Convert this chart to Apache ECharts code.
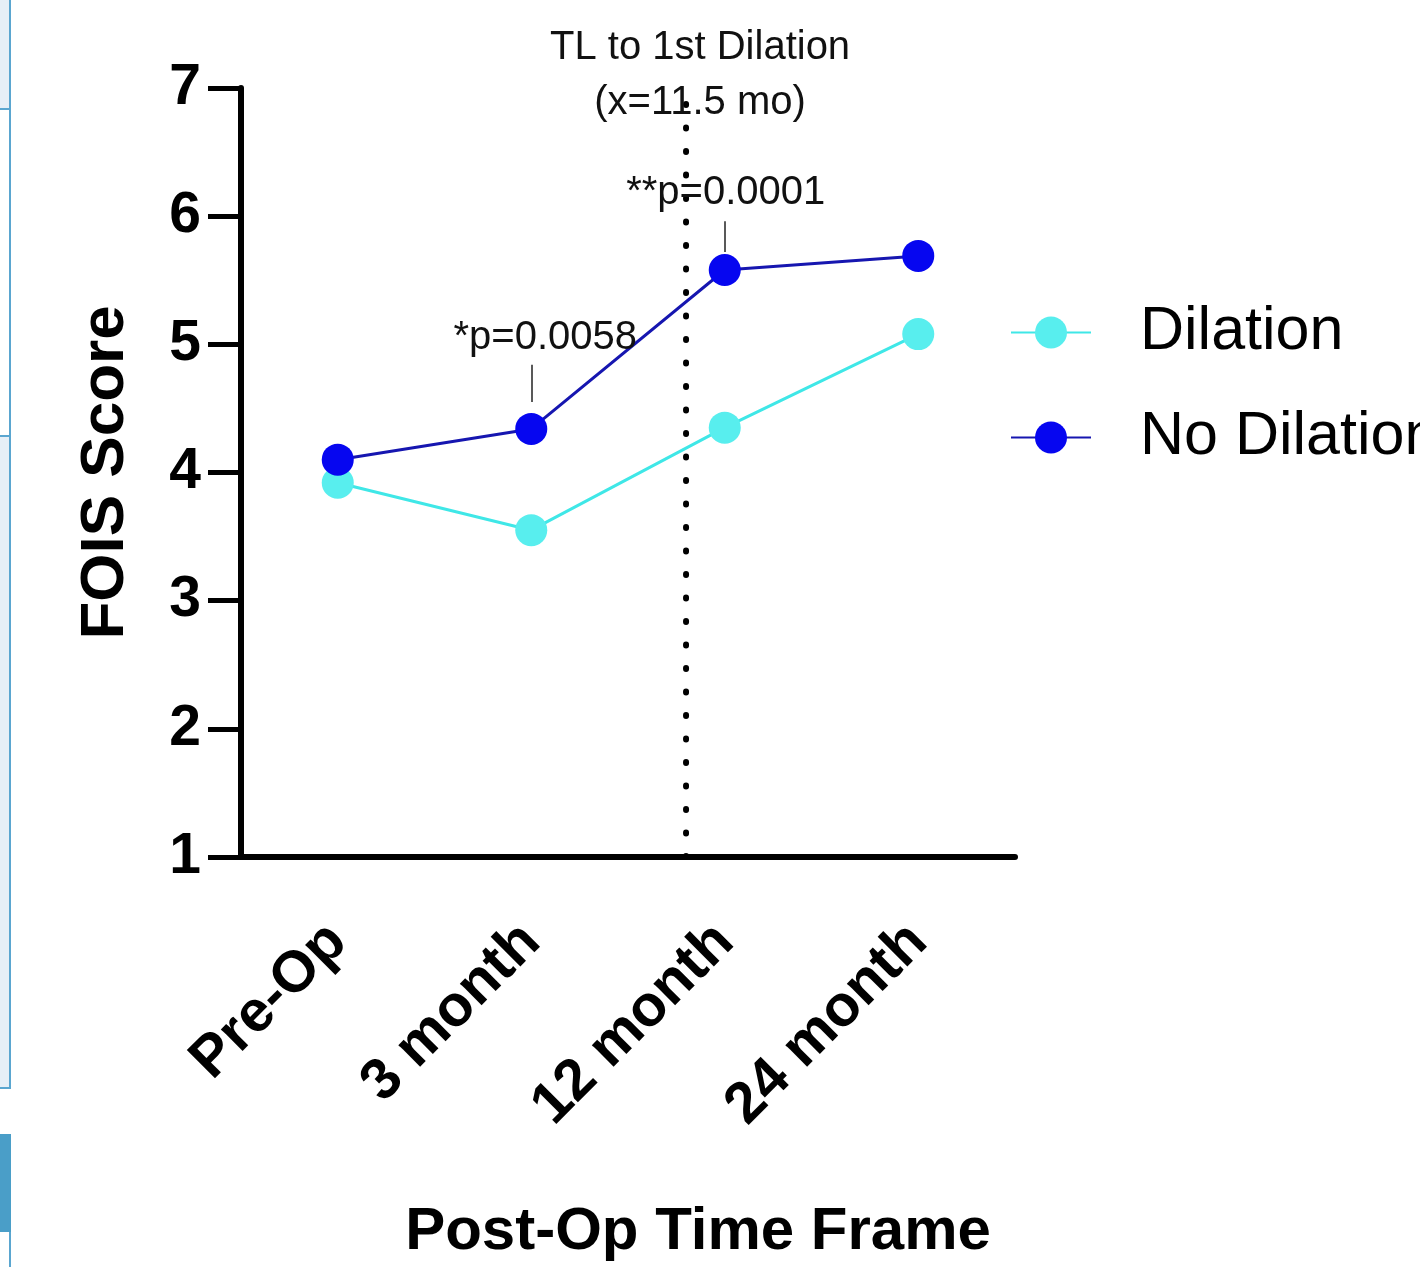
<!DOCTYPE html>
<html>
<head>
<meta charset="utf-8">
<script src="https://cdn.jsdelivr.net/npm/echarts@6/dist/echarts.min.js"></script>
<style>
html,body{margin:0;padding:0;background:#fff;}
#chart{width:1420px;height:1267px;}
</style>
</head>
<body>
<div id="chart"></div>
<script>
// ---- data ----
const categories = ['Pre-Op', '3 month', '12 month', '24 month'];
const dilation = [3.92, 3.55, 4.35, 5.08];
const noDilation = [4.10, 4.34, 5.58, 5.69];
const yTicks = [1, 2, 3, 4, 5, 6, 7];
const dilationLineX = 1.8;           // position between 3 and 12 month (category index)
const dilationLineRange = [1, 7.05];
const pAnnotations = [
  { cat: '3 month', text: '*p=0.0058', textY: 5.05, leader: [4.55, 4.84], dx: 14 },
  { cat: '12 month', text: '**p=0.0001', textY: 6.18, leader: [5.72, 5.96], dx: 1 }
];
const dilationNote = 'TL to 1st Dilation\n(x=11.5 mo)';

const FONT = '"Liberation Sans", Arial, Helvetica, sans-serif';
const chart = echarts.init(document.getElementById('chart'), null, { renderer: 'canvas' });

const option = {
  backgroundColor: '#ffffff',
  animation: false,
  grid: { left: 241, top: 88, width: 774, height: 771, containLabel: false },
  legend: {
    orient: 'vertical',
    left: 1010,
    top: 302,
    padding: 0,
    itemWidth: 80,
    itemHeight: 40,
    itemGap: 44,
    textStyle: { fontFamily: FONT, fontSize: 61, color: '#000', padding: [0, 0, 0, 44] },
    data: ['Dilation', 'No Dilation']
  },
  xAxis: [
    {
      type: 'category',
      data: categories,
      boundaryGap: true,
      axisLine: { onZero: false, lineStyle: { color: '#000', width: 6 } },
      axisTick: { alignWithLabel: true, length: 33, lineStyle: { color: '#000', width: 5 } },
      axisLabel: { rotate: 45, margin: 76, fontFamily: FONT, fontSize: 58, fontWeight: 'bold', color: '#000' },
      splitLine: { show: false },
      name: 'Post-Op Time Frame',
      nameLocation: 'middle',
      nameGap: 345,
      nameTextStyle: { fontFamily: FONT, fontSize: 60, fontWeight: 'bold', color: '#000', padding: [0, 0, 0, 140] }
    },
    {
      type: 'value',
      min: -0.5,
      max: 3.5,
      show: false
    }
  ],
  yAxis: {
    type: 'value',
    min: yTicks[0],
    max: yTicks[yTicks.length - 1],
    interval: 1,
    axisLine: { show: true, onZero: false, lineStyle: { color: '#000', width: 6 } },
    axisTick: { show: true, length: 33, lineStyle: { color: '#000', width: 5 } },
    axisLabel: { margin: 40, fontFamily: FONT, fontSize: 57, fontWeight: 'bold', color: '#000' },
    splitLine: { show: false },
    name: 'FOIS Score',
    nameLocation: 'middle',
    nameGap: 104,
    nameTextStyle: { fontFamily: FONT, fontSize: 62, fontWeight: 'bold', color: '#000' }
  },
  series: [
    {
      name: 'Dilation',
      type: 'line',
      data: dilation,
      symbol: 'circle',
      symbolSize: 32,
      lineStyle: { color: '#3fe7e7', width: 3 },
      itemStyle: { color: '#58eeee' },
      z: 3
    },
    {
      name: 'No Dilation',
      type: 'line',
      data: noDilation,
      symbol: 'circle',
      symbolSize: 32,
      lineStyle: { color: '#1616b0', width: 3 },
      itemStyle: { color: '#0606f0' },
      z: 4,
      markPoint: {
        symbol: 'circle',
        symbolSize: 0,
        label: { show: true, position: 'inside', fontFamily: FONT, fontSize: 40, color: '#111' },
        data: pAnnotations.map(a => ({
          coord: [a.cat, a.textY],
          label: { formatter: a.text, offset: [a.dx, 0] }
        }))
      },
      markLine: {
        symbol: ['none', 'none'],
        silent: true,
        label: { show: false },
        lineStyle: { color: '#222', width: 1.5, type: 'solid' },
        data: pAnnotations.map(a => [
          { coord: [a.cat, a.leader[0]] },
          { coord: [a.cat, a.leader[1]] }
        ])
      }
    },
    {
      name: 'TL to 1st Dilation',
      type: 'line',
      xAxisIndex: 1,
      data: [[dilationLineX, dilationLineRange[0]], [dilationLineX, dilationLineRange[1]]],
      symbol: 'none',
      clip: false,
      silent: true,
      lineStyle: { color: '#000', width: 6, type: [1, 22.5], cap: 'round' },
      z: 2,
      endLabel: {
        show: true,
        formatter: dilationNote,
        distance: 0,
        align: 'center',
        verticalAlign: 'bottom',
        offset: [14, 49],
        fontFamily: FONT,
        fontSize: 40,
        lineHeight: 55,
        color: '#111'
      }
    }
  ],
  graphic: [
    { type: 'rect', shape: { x: 0, y: 0, width: 9, height: 109 }, style: { fill: '#e6eff7' }, silent: true },
    { type: 'rect', shape: { x: 0, y: 436, width: 9, height: 652 }, style: { fill: '#e6eff7' }, silent: true },
    { type: 'rect', shape: { x: 0, y: 108, width: 11, height: 2 }, style: { fill: '#5aa6d0' }, silent: true },
    { type: 'rect', shape: { x: 0, y: 435, width: 11, height: 2 }, style: { fill: '#5aa6d0' }, silent: true },
    { type: 'rect', shape: { x: 0, y: 1087, width: 11, height: 2 }, style: { fill: '#5aa6d0' }, silent: true },
    { type: 'rect', shape: { x: 9, y: 0, width: 2, height: 1089 }, style: { fill: '#5aa6d0' }, silent: true },
    { type: 'rect', shape: { x: 0, y: 1134, width: 11, height: 98 }, style: { fill: '#4a9ec8' }, silent: true },
    { type: 'rect', shape: { x: 9, y: 1232, width: 2, height: 35 }, style: { fill: '#5aa6d0' }, silent: true }
  ]
};
chart.setOption(option);
</script>
</body>
</html>
